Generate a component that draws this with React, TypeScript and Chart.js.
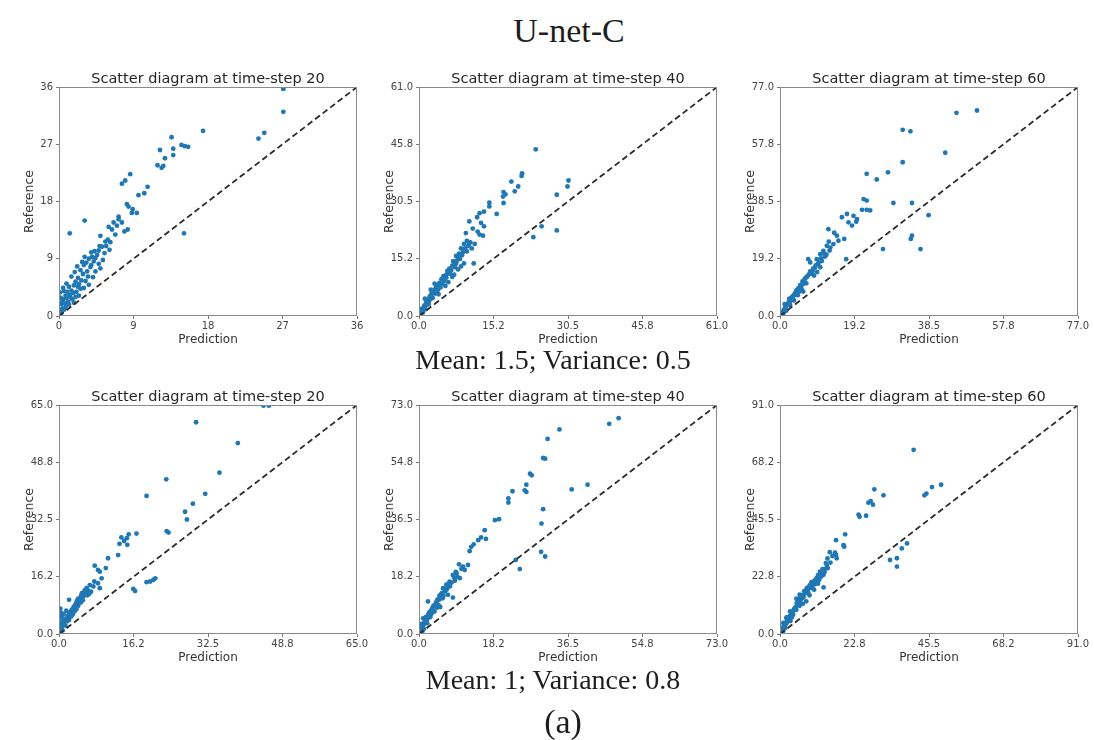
import React, { useEffect, useRef } from "react";
import { Chart, registerables } from "chart.js";

Chart.register(...registerables);

// Scatter points [prediction, reference] for each time-step, first setting
const caseA_step20: [number, number][] = [
  [27.1, 35.7], [27.1, 32.1], [17.4, 29.1], [24.1, 27.9], [24.8, 28.8], [13.6, 28.1],
  [12.2, 26.1], [13.8, 26.3], [12.8, 24.8], [13.8, 25.3], [15.2, 26.7], [15.6, 26.6],
  [14.8, 26.9], [11.9, 23.7], [12.4, 23.3], [12.6, 23.6], [15.1, 13.0], [8.6, 22.3],
  [8.0, 21.3], [7.6, 20.8], [10.7, 20.3], [10.3, 19.3], [9.6, 19.0], [8.2, 17.6],
  [8.4, 17.2], [8.9, 16.8], [8.8, 16.2], [9.4, 16.2], [6.6, 14.7], [7.2, 15.2],
  [7.2, 15.6], [7.6, 14.7], [6.0, 14.0], [5.0, 12.6], [3.1, 15.0], [1.3, 13.0],
  [8.3, 13.6], [7.9, 13.3], [5.6, 11.7], [5.2, 10.9], [7.0, 14.2], [6.4, 13.6],
  [5.9, 12.0], [4.9, 11.0], [4.3, 10.2], [3.9, 10.0], [4.6, 9.6], [4.0, 9.3],
  [3.6, 9.0], [3.3, 8.4], [3.8, 7.7], [5.0, 7.5], [4.2, 8.6], [3.0, 8.0],
  [2.6, 7.2], [2.9, 6.6], [2.3, 6.0], [1.5, 6.2], [2.0, 5.4], [1.8, 4.8],
  [2.4, 5.0], [1.2, 4.6], [1.5, 4.0], [1.0, 3.8], [0.6, 3.9], [1.3, 3.3],
  [0.9, 2.8], [0.5, 2.6], [0.7, 2.0], [0.3, 1.9], [1.1, 2.2], [0.4, 1.2],
  [0.2, 0.8], [0.6, 1.0], [0.1, 0.3], [0.3, 0.5], [2.1, 3.8], [2.6, 4.3],
  [3.2, 5.5], [2.0, 3.0], [1.6, 2.6], [3.5, 6.2], [4.4, 7.0], [1.2, 1.8],
  [0.8, 1.4], [6.1, 10.4], [5.5, 9.9], [0.1, 3.7], [0.2, 2.9],
  [0.4, 2.2], [0.8, 3.2], [1.4, 2.9], [1.7, 3.6], [2.3, 4.6], [2.7, 5.6],
  [3.4, 7.0], [3.9, 8.0], [4.4, 9.1], [3.1, 9.3], [2.8, 8.5], [4.8, 8.2],
  [5.3, 8.8], [1.9, 6.9], [2.2, 7.8], [0.9, 5.1], [0.5, 4.4], [1.8, 2.1],
  [2.4, 3.2], [3.0, 4.4], [3.6, 4.9], [4.1, 6.1], [4.8, 10.3], [5.7, 11.0],
  [6.8, 12.8], [6.2, 11.6],
];

const caseA_step40: [number, number][] = [
  [23.9, 44.4], [21.1, 38.0], [21.0, 37.3], [18.9, 35.8], [20.3, 34.5], [19.6, 33.2],
  [17.3, 33.0], [17.7, 32.4], [17.2, 31.8], [17.3, 30.1], [14.4, 30.2], [14.4, 29.2],
  [15.9, 27.2], [12.4, 27.4], [11.9, 26.3], [13.3, 27.8], [10.3, 25.2], [12.7, 24.8],
  [13.3, 23.9], [9.6, 22.1], [12.4, 21.7], [13.1, 21.4], [11.2, 14.0], [30.6, 36.1],
  [30.4, 34.5], [28.2, 32.3], [28.2, 22.8], [25.1, 23.9], [23.4, 21.0], [12.0, 22.5],
  [11.0, 23.3], [10.5, 19.6], [9.8, 20.0], [9.2, 19.2], [10.0, 18.6], [10.8, 18.0],
  [11.4, 19.2], [8.6, 18.0], [9.0, 17.0], [8.2, 16.6], [7.6, 16.0], [8.4, 15.2],
  [7.8, 14.8], [7.0, 14.6], [6.8, 13.4], [7.4, 13.0], [6.2, 12.6], [5.8, 12.0],
  [6.4, 11.2], [5.6, 11.0], [5.0, 10.6], [4.6, 9.8], [5.2, 9.4], [4.2, 8.8],
  [3.8, 8.2], [4.4, 7.6], [3.4, 7.4], [3.0, 6.8], [3.6, 6.2], [2.6, 6.0],
  [2.2, 5.2], [2.8, 4.8], [1.8, 4.4], [1.5, 3.6], [2.0, 3.2], [1.1, 2.8],
  [0.8, 2.0], [1.3, 1.8], [0.5, 1.2], [0.3, 0.6], [0.8, 0.9], [4.0, 5.8],
  [5.4, 8.0], [6.0, 9.0], [7.2, 11.0], [8.0, 12.4], [9.2, 14.0], [2.4, 7.0],
  [1.2, 4.6], [3.2, 8.6], [0.2, 1.8],
  [0.6, 1.6], [1.0, 2.4], [1.6, 3.0], [1.9, 4.0], [2.3, 4.4], [2.5, 5.6],
  [2.9, 6.2], [3.3, 6.0], [3.9, 7.0], [4.1, 7.9], [4.8, 8.6], [5.0, 9.9],
  [5.6, 10.2], [6.0, 11.6], [6.6, 12.2], [7.2, 13.6], [7.6, 14.0], [8.0, 15.6],
  [8.8, 16.2], [9.4, 18.0], [9.8, 17.2], [10.2, 19.0], [6.8, 10.4], [8.6, 13.2],
];

const caseA_step60: [number, number][] = [
  [50.9, 69.1], [45.6, 68.3], [31.7, 62.6], [33.7, 62.1], [42.7, 54.9], [31.7, 51.7],
  [22.4, 47.8], [27.9, 48.3], [25.0, 45.9], [21.6, 39.3], [22.4, 38.8], [21.2, 35.7],
  [22.4, 35.7], [23.3, 35.5], [29.3, 38.0], [34.1, 38.0], [38.4, 33.9], [34.1, 27.0],
  [33.8, 25.9], [26.6, 22.5], [36.3, 22.5], [17.1, 19.1], [17.3, 34.3], [19.0, 33.7],
  [19.9, 32.6], [17.7, 31.5], [16.0, 33.2], [18.6, 30.4], [19.7, 31.7], [12.5, 29.2],
  [14.0, 28.0], [14.7, 27.0], [16.6, 25.9], [15.1, 25.3], [13.8, 24.2], [12.1, 23.6],
  [11.2, 21.9], [10.4, 20.8], [9.5, 19.1], [7.8, 18.0], [7.3, 19.1], [12.8, 22.0],
  [11.6, 20.0], [10.8, 18.5], [9.8, 17.4], [9.0, 16.2], [8.4, 15.0], [7.6, 14.2],
  [8.8, 13.6], [7.0, 13.2], [6.4, 12.4], [5.8, 11.6], [6.8, 11.0], [5.2, 10.4],
  [4.8, 9.4], [5.6, 9.0], [4.2, 8.4], [3.8, 7.4], [4.6, 7.0], [3.2, 6.6],
  [2.8, 5.6], [3.6, 5.2], [2.2, 4.6], [1.8, 3.8], [2.6, 3.6], [1.4, 2.8],
  [1.0, 2.0], [1.6, 1.8], [0.6, 1.2], [0.3, 0.5], [0.9, 0.9], [9.6, 14.8],
  [10.4, 16.4], [2.4, 5.8], [1.2, 4.0], [6.0, 8.2],
  [0.5, 0.9], [0.8, 1.6], [1.2, 2.4], [1.5, 3.2], [2.0, 4.0], [2.4, 4.2],
  [2.6, 5.0], [3.0, 6.0], [3.4, 5.8], [3.6, 7.0], [4.0, 7.8], [4.4, 8.8],
  [5.0, 8.2], [5.4, 10.0], [6.0, 10.8], [6.2, 11.8], [6.6, 12.8], [7.2, 13.6],
  [7.8, 15.0], [8.2, 14.2], [8.6, 16.0], [9.2, 17.0], [10.0, 18.0], [10.6, 19.4],
  [11.4, 21.0], [12.0, 20.6], [13.0, 23.0], [12.6, 25.0],
];

// Scatter points [prediction, reference] for each time-step, second setting
const caseB_step20: [number, number][] = [
  [44.6, 64.8], [45.8, 64.8], [29.9, 60.1], [39.0, 54.2], [35.0, 45.8], [23.4, 43.9],
  [19.1, 39.2], [31.9, 39.8], [29.2, 37.0], [27.5, 34.7], [27.9, 32.5], [23.5, 29.2],
  [23.9, 28.8], [16.9, 28.5], [15.2, 28.3], [14.8, 27.2], [14.2, 26.4], [13.6, 27.4],
  [13.2, 25.6], [14.9, 25.3], [12.9, 22.4], [10.7, 21.5], [7.8, 19.4], [8.9, 13.0],
  [16.6, 12.2], [16.2, 12.8], [19.1, 14.7], [19.9, 14.9], [20.6, 15.4], [21.0, 15.8],
  [2.2, 9.7], [8.5, 18.2], [8.9, 17.7], [10.2, 18.7], [9.3, 15.8], [7.7, 14.9],
  [8.5, 14.4], [7.5, 13.5], [6.7, 13.9], [6.0, 13.0], [6.4, 12.1], [5.6, 12.4],
  [5.0, 11.6], [5.4, 10.8], [4.6, 10.2], [4.0, 9.6], [4.4, 8.8], [3.6, 8.4],
  [3.2, 7.6], [3.8, 7.0], [2.8, 6.8], [2.4, 6.0], [3.0, 5.6], [2.0, 5.2],
  [1.6, 4.4], [2.2, 4.0], [1.2, 3.6], [0.9, 2.8], [1.4, 2.4], [0.6, 1.8],
  [0.3, 1.0], [0.8, 1.0], [1.0, 5.6], [0.6, 4.6], [0.4, 3.2], [1.6, 6.6],
  [4.8, 9.0], [6.2, 11.0], [7.0, 12.0], [0.2, 0.4], [0.3, 7.2], [0.5, 6.0],
  [0.4, 1.4], [0.7, 2.4], [1.0, 3.2], [1.3, 4.0], [1.8, 3.6], [1.9, 4.8],
  [2.2, 5.6], [2.6, 6.4], [2.7, 5.0], [3.0, 7.2], [3.4, 6.4], [3.4, 8.0],
  [3.8, 9.0], [4.2, 8.0], [4.2, 10.0], [4.8, 10.8], [5.2, 9.6], [5.8, 11.6],
  [6.2, 12.6], [6.6, 11.4], [0.2, 2.2], [0.4, 5.2], [0.8, 4.0],
];

const caseB_step40: [number, number][] = [
  [48.9, 68.8], [46.6, 67.0], [34.4, 65.2], [31.5, 62.2], [30.4, 56.1], [30.9, 55.9],
  [27.6, 50.6], [27.2, 51.1], [26.3, 47.6], [25.9, 45.8], [26.3, 45.3], [22.9, 45.5],
  [21.9, 43.2], [21.9, 41.9], [18.6, 36.3], [19.6, 36.6], [16.1, 33.1], [16.4, 30.3],
  [14.5, 29.9], [12.8, 27.8], [12.4, 26.4], [15.2, 30.8], [13.4, 28.6], [37.4, 46.1],
  [41.3, 47.6], [30.4, 39.8], [30.0, 35.2], [29.9, 26.2], [30.9, 24.7], [23.7, 23.6],
  [24.7, 20.7], [2.2, 10.4], [8.3, 11.6], [9.8, 22.2], [10.8, 21.5], [12.0, 22.0],
  [9.2, 19.4], [8.3, 18.8], [10.0, 17.8], [7.5, 16.7], [6.7, 15.7], [5.9, 14.6],
  [7.1, 12.5], [6.4, 13.6], [5.6, 13.0], [5.0, 12.2], [5.8, 11.4], [4.6, 11.0],
  [4.2, 10.0], [4.8, 9.2], [3.6, 9.0], [3.2, 8.0], [3.8, 7.2], [2.6, 7.0],
  [2.2, 6.0], [2.8, 5.4], [1.8, 4.8], [1.4, 3.8], [2.0, 3.4], [1.0, 2.8],
  [0.7, 2.0], [1.2, 1.6], [0.4, 1.0], [0.2, 0.4], [0.8, 0.8], [6.8, 14.2],
  [7.6, 15.2], [8.8, 17.0], [9.4, 18.2], [11.2, 20.4], [3.0, 6.4], [1.6, 5.4],
  [0.6, 3.2], [5.2, 8.6],
  [0.5, 1.4], [0.9, 2.2], [1.2, 3.2], [1.6, 4.2], [2.0, 4.6], [2.4, 5.4],
  [2.4, 6.6], [2.9, 7.4], [3.4, 7.0], [3.4, 8.6], [4.0, 9.4], [4.4, 8.4],
  [4.4, 10.6], [5.0, 11.0], [5.4, 12.6], [6.0, 12.2], [6.2, 14.0], [7.0, 14.8],
  [7.2, 16.0], [8.0, 16.4], [8.6, 18.0], [9.0, 19.8], [10.4, 20.8], [1.0, 5.0],
];

const caseB_step60: [number, number][] = [
  [40.8, 73.2], [49.2, 59.3], [46.4, 58.4], [44.1, 55.1], [44.7, 55.8], [31.6, 55.1],
  [28.8, 57.5], [27.7, 52.8], [28.4, 51.4], [27.0, 52.2], [26.3, 47.0], [24.3, 46.6],
  [24.0, 47.4], [19.9, 39.6], [19.4, 35.3], [19.6, 34.7], [17.1, 37.3], [16.8, 32.3],
  [17.1, 31.4], [17.3, 30.1], [15.2, 32.5], [16.0, 31.0], [14.5, 30.0], [38.8, 36.0],
  [37.2, 34.0], [35.7, 30.1], [33.6, 29.4], [35.7, 26.8], [12.2, 24.8], [13.3, 18.5],
  [14.3, 27.4], [13.3, 23.5], [11.2, 22.2], [10.2, 20.8], [9.2, 19.5], [8.2, 18.2],
  [7.7, 16.2], [6.1, 14.2], [5.1, 12.3], [4.6, 10.3], [3.1, 9.0], [2.0, 6.3],
  [1.5, 4.4], [0.5, 2.4], [14.0, 26.0], [13.0, 25.8], [12.6, 22.8], [11.6, 23.4],
  [10.8, 21.6], [10.0, 19.6], [9.6, 20.6], [8.8, 18.8], [8.4, 17.2], [7.4, 17.0],
  [7.0, 15.4], [6.6, 14.0], [5.8, 13.4], [5.4, 12.0], [6.0, 11.2], [4.8, 10.8],
  [4.2, 9.6], [3.6, 8.6], [4.0, 7.6], [3.0, 7.2], [2.6, 6.0], [3.2, 5.2],
  [2.2, 5.0], [1.8, 4.0], [1.2, 3.2], [1.6, 2.4], [0.8, 2.0], [0.4, 1.0],
  [0.2, 0.4], [1.0, 1.2], [8.0, 13.0], [9.0, 15.4], [10.4, 17.6], [11.6, 20.0],
  [2.0, 6.6], [1.0, 4.4], [5.0, 14.0], [6.0, 15.6], [7.0, 12.0],
  [0.6, 1.6], [1.0, 2.6], [1.4, 3.8], [2.0, 4.4], [2.4, 5.4], [2.8, 6.6],
  [3.4, 7.8], [3.6, 6.6], [4.0, 8.8], [4.4, 10.0], [5.0, 9.6], [5.2, 11.4],
  [5.6, 12.8], [6.2, 12.6], [6.4, 14.8], [7.2, 14.6], [7.8, 16.6], [8.6, 16.4],
  [9.2, 18.2], [9.8, 18.6], [10.6, 19.8], [11.0, 21.0], [12.0, 21.6], [12.4, 24.0],
  [13.6, 24.6], [14.6, 26.2], [15.4, 28.4], [14.0, 28.2],
];

// Tick labels shared by both axes of each panel (last entry is the axis maximum)
const ticksA20 = ["0", "9", "18", "27", "36"];
const ticksA40 = ["0.0", "15.2", "30.5", "45.8", "61.0"];
const ticksA60 = ["0.0", "19.2", "38.5", "57.8", "77.0"];
const ticksB20 = ["0.0", "16.2", "32.5", "48.8", "65.0"];
const ticksB40 = ["0.0", "18.2", "36.5", "54.8", "73.0"];
const ticksB60 = ["0.0", "22.8", "45.5", "68.2", "91.0"];

const panelTitles = [
  "Scatter diagram at time-step 20",
  "Scatter diagram at time-step 40",
  "Scatter diagram at time-step 60",
];

const figureTitle = "U-net-C";
const captionA = "Mean: 1.5; Variance: 0.5";
const captionB = "Mean: 1; Variance: 0.8";
const figureLabel = "(a)";

const SANS = '"DejaVu Sans", sans-serif';
const SERIF = '"Liberation Serif", "Times New Roman", serif';

const Y_AXIS_W = 59;
const X_AXIS_H = 32;
const PAD_TOP = 27;
const PAD_RIGHT = 16;
const PLOT_W = 298;
const PLOT_H = 229;
const BOX_W = Y_AXIS_W + PLOT_W + PAD_RIGHT;
const BOX_H = PAD_TOP + PLOT_H + X_AXIS_H;

// Draws the axes frame on top of the marks and the panel heading above it
const panelDecor = {
  id: "panelDecor",
  afterDatasetsDraw(chart: any, _args: any, opts: any) {
    const { ctx, chartArea: a } = chart;
    ctx.save();
    ctx.strokeStyle = "#8a8a8a";
    ctx.lineWidth = 1;
    const l = Math.round(a.left), t = Math.round(a.top);
    const r = Math.round(a.right), b = Math.round(a.bottom);
    ctx.strokeRect(l + 0.5, t + 0.5, r - l - 1, b - t - 1);
    ctx.fillStyle = "#262626";
    ctx.font = `14.5px ${SANS}`;
    ctx.textAlign = "center";
    ctx.textBaseline = "alphabetic";
    ctx.fillText(opts.text, (a.left + a.right) / 2, a.top - 4);
    ctx.restore();
  },
};

type PanelProps = {
  left: number;
  top: number;
  title: string;
  labels: string[];
  points: [number, number][];
};

function ScatterPanel({ left, top, title, labels, points }: PanelProps) {
  const ref = useRef<HTMLCanvasElement>(null);
  useEffect(() => {
    if (!ref.current) return;
    const max = Number(labels[labels.length - 1]);
    const tickValues = labels.map((_, i) => (max * i) / (labels.length - 1));
    const axis = (titleText: string, isY: boolean) => ({
      type: "linear" as const,
      min: 0,
      max,
      afterBuildTicks: (s: any) => {
        s.ticks = tickValues.map((v) => ({ value: v }));
      },
      afterFit: (s: any) => {
        if (isY) s.width = Y_AXIS_W;
        else s.height = X_AXIS_H;
      },
      ticks: {
        callback: (_v: any, i: number) => labels[i],
        font: { family: SANS, size: 10 },
        color: "#444",
        padding: isY ? 3 : 1,
        maxRotation: 0,
        autoSkip: false,
      },
      grid: {
        display: true,
        drawOnChartArea: false,
        drawTicks: true,
        tickLength: 3,
        color: "#777",
      },
      border: { display: false },
      title: {
        display: true,
        text: titleText,
        font: { family: SANS, size: isY ? 12.5 : 12 },
        color: "#333",
        padding: isY ? { top: 22, bottom: 0 } : { top: 0, bottom: 1 },
      },
    });

    const chart = new Chart(ref.current, {
      type: "scatter",
      data: {
        datasets: [
          {
            type: "line",
            data: [
              { x: 0, y: 0 },
              { x: max, y: max },
            ],
            borderColor: "#2b2b2b",
            borderWidth: 1.8,
            borderDash: [6, 3.5],
            pointRadius: 0,
            fill: false,
            order: 0,
          },
          {
            type: "scatter",
            data: points.map(([x, y]) => ({ x, y })),
            backgroundColor: "#1f77b4",
            borderWidth: 0,
            pointRadius: 2.4,
            order: 1,
          },
        ],
      } as any,
      options: {
        responsive: false,
        animation: false,
        devicePixelRatio: 1,
        events: [],
        layout: { padding: { top: PAD_TOP, right: PAD_RIGHT, left: 0, bottom: 0 } },
        plugins: {
          legend: { display: false },
          tooltip: { enabled: false },
          title: { display: false },
          panelDecor: { text: title },
        } as any,
        scales: {
          x: axis("Prediction", false),
          y: axis("Reference", true),
        } as any,
      },
      plugins: [panelDecor],
    });
    return () => chart.destroy();
  }, [title, labels, points]);

  return (
    <canvas
      ref={ref}
      width={BOX_W}
      height={BOX_H}
      style={{ position: "absolute", left, top, width: BOX_W, height: BOX_H }}
    />
  );
}

function SerifText({ text, cx, baseline, size }: { text: string; cx: number; baseline: number; size: number }) {
  return (
    <div
      style={{
        position: "absolute",
        left: cx - 250,
        width: 500,
        top: baseline - 0.8375 * size,
        fontFamily: SERIF,
        fontSize: size,
        lineHeight: 1,
        textAlign: "center",
        color: "#1e1e1e",
        whiteSpace: "nowrap",
      }}
    >
      {text}
    </div>
  );
}

const columnLefts = [0, 360, 721];
const rowTops = [60, 378];

export default function App() {
  const rows = [
    { data: [caseA_step20, caseA_step40, caseA_step60], ticks: [ticksA20, ticksA40, ticksA60] },
    { data: [caseB_step20, caseB_step40, caseB_step60], ticks: [ticksB20, ticksB40, ticksB60] },
  ];
  return (
    <div
      style={{
        position: "absolute",
        left: 0,
        top: 0,
        width: 1094,
        height: 740,
        background: "#ffffff",
        overflow: "hidden",
      }}
    >
      <SerifText text={figureTitle} cx={569} baseline={42} size={34} />
      {rows.map((row, r) =>
        row.data.map((pts, c) => (
          <ScatterPanel
            key={`${r}-${c}`}
            left={columnLefts[c]}
            top={rowTops[r]}
            title={panelTitles[c]}
            labels={row.ticks[c]}
            points={pts}
          />
        ))
      )}
      <SerifText text={captionA} cx={553} baseline={369} size={28} />
      <SerifText text={captionB} cx={553} baseline={689} size={28} />
      <SerifText text={figureLabel} cx={563} baseline={733} size={34} />
    </div>
  );
}
